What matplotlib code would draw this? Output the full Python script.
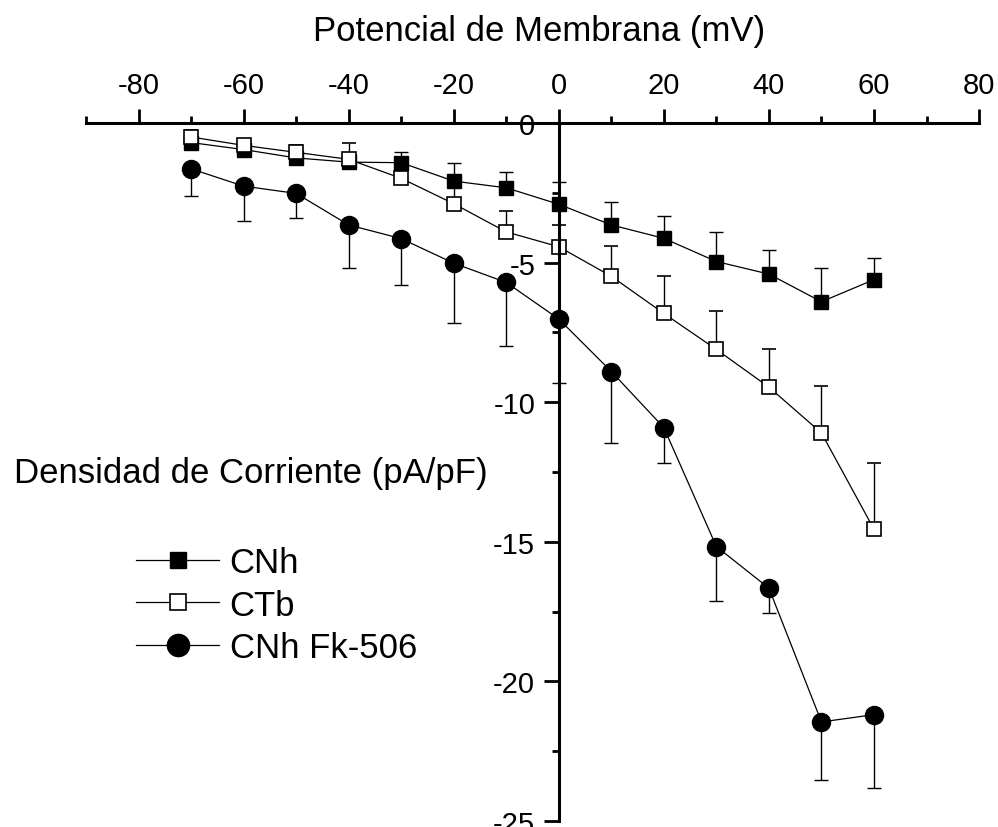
import numpy as np
import matplotlib.pyplot as plt
from matplotlib.lines import Line2D

plt.rcParams['font.family'] = ['Liberation Sans', 'DejaVu Sans']

# Voltage steps (mV)
voltage = [-70, -60, -50, -40, -30, -20, -10, 0, 10, 20, 30, 40, 50, 60]

# Current density (pA/pF) and SEM
cnh = [-0.7, -0.95, -1.25, -1.4, -1.42, -2.08, -2.32, -2.91, -3.65, -4.13, -4.96, -5.41, -6.4, -5.61]
cnh_err = [0.2, 0.2, 0.2, 0.3, 0.4, 0.66, 0.58, 0.81, 0.82, 0.8, 1.04, 0.87, 1.2, 0.77]

ctb = [-0.5, -0.8, -1.05, -1.3, -1.98, -2.89, -3.9, -4.43, -5.49, -6.82, -8.11, -9.46, -11.1, -14.55]
ctb_err = [0.25, 0.2, 0.25, 0.59, 0.5, 0.6, 0.74, 0.78, 1.09, 1.35, 1.39, 1.35, 1.67, 2.39]

fk = [-1.64, -2.26, -2.52, -3.65, -4.14, -5.02, -5.71, -7.02, -8.9, -10.91, -15.17, -16.66, -21.45, -21.19]
fk_err = [0.97, 1.25, 0.87, 1.55, 1.65, 2.14, 2.28, 2.3, 2.56, 1.26, 1.94, 0.89, 2.08, 2.61]

labels = ['CNh', 'CTb', 'CNh Fk-506']

fig = plt.figure(figsize=(9.98, 8.28), dpi=100)
ax = fig.add_axes([0.0862, 0.0072, 0.8948, 0.843])

zeros = np.zeros(len(voltage))
err_kw = dict(color='black', elinewidth=1.0, capsize=5, capthick=1.0, lw=0.9)

# CNh: filled squares, error bars upward
ax.errorbar(voltage, cnh, yerr=[zeros, cnh_err], fmt='-s', ms=10,
            mfc='black', mec='black', **err_kw)
# CTb: open squares, error bars upward
ax.errorbar(voltage, ctb, yerr=[zeros, ctb_err], fmt='-s', ms=10,
            mfc='white', mec='black', mew=1.2, **err_kw)
# CNh Fk-506: filled circles, error bars downward
ax.errorbar(voltage, fk, yerr=[fk_err, zeros], fmt='-o', ms=13,
            mfc='black', mec='black', **err_kw)

ax.set_xlim(-90, 80)
ax.set_ylim(-25, 0)

# Axes crossing: x axis on top (y=0), y axis through x=0
ax.spines['bottom'].set_visible(False)
ax.spines['right'].set_visible(False)
ax.spines['left'].set_position(('data', 0))
ax.spines['left'].set_linewidth(2.2)
ax.spines['top'].set_linewidth(2.2)

ax.xaxis.tick_top()
ax.set_xticks(np.arange(-80, 81, 20))
ax.set_xticks(np.arange(-90, 81, 10), minor=True)
ax.set_yticks(np.arange(-25, 1, 5))
ax.set_yticks(np.arange(-25, 0.1, 2.5), minor=True)
ax.set_yticklabels(['-25', '-20', '-15', '-10', '-5', '0'])
ax.set_xticklabels(['-80', '-60', '-40', '-20', '0', '20', '40', '60', '80'])

ax.tick_params(axis='x', which='major', direction='out', length=10, width=2, pad=7, labelsize=21)
ax.tick_params(axis='x', which='minor', direction='out', length=5, width=2)
ax.tick_params(axis='y', which='major', direction='out', length=11, width=2, pad=6, labelsize=21)
ax.tick_params(axis='y', which='minor', direction='out', length=5, width=2)

fig.text(0.54, 1 - 32 / 828, 'Potencial de Membrana (mV)', ha='center', va='center', fontsize=25)
fig.text(14 / 998, 1 - 474 / 828, 'Densidad de Corriente (pA/pF)', ha='left', va='center', fontsize=25)

handles = [
    Line2D([], [], color='black', lw=0.9, marker='s', ms=12, mfc='black', mec='black'),
    Line2D([], [], color='black', lw=0.9, marker='s', ms=12, mfc='white', mec='black', mew=1.2),
    Line2D([], [], color='black', lw=0.9, marker='o', ms=16, mfc='black', mec='black'),
]
fig.legend(handles, labels, loc='upper left', bbox_to_anchor=(122 / 998, 1 - 533 / 828),
           frameon=False, fontsize=25, handlelength=2.4, handletextpad=0.3,
           labelspacing=0.28, borderaxespad=0)

fig.savefig('out.png', dpi=100)
